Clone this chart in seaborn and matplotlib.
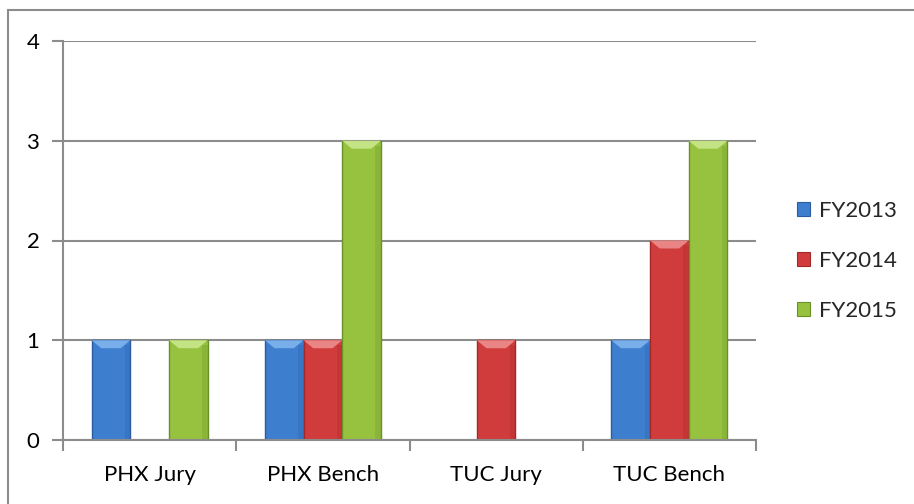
import matplotlib
matplotlib.use("Agg")
import matplotlib.pyplot as plt
from matplotlib.patches import Polygon, Rectangle
import numpy as np
import pandas as pd
import seaborn as sns

# Case counts by court location and fiscal year
categories = ["PHX Jury", "PHX Bench", "TUC Jury", "TUC Bench"]
fy2013 = [1, 1, 0, 1]
fy2014 = [0, 1, 1, 2]
fy2015 = [1, 3, 0, 3]
series_names = ["FY2013", "FY2014", "FY2015"]
y_ticks = [0, 1, 2, 3, 4]

fill_colors = ["#3d7ecf", "#d03c3c", "#96c23f"]
edge_colors = ["#2a5c9e", "#a32828", "#6a9127"]
top_colors = ["#78aee9", "#ea8585", "#c3e385"]

df = pd.DataFrame({
    "category": categories * 3,
    "series": [s for s in series_names for _ in categories],
    "value": fy2013 + fy2014 + fy2015,
})

sns.set_theme(style="white")
plt.rcParams["font.family"] = ["Lato", "DejaVu Sans"]

fig = plt.figure(figsize=(9.14, 5.04), dpi=100)
ax = fig.add_axes([63 / 914, 1 - 440 / 504, (756 - 63) / 914, (440 - 41) / 504])

sns.barplot(data=df, x="category", y="value", hue="series", order=categories,
            hue_order=series_names, palette=fill_colors, width=0.67, gap=0,
            saturation=1, ax=ax, legend=False, linewidth=0)

# Style each bar: darker outline, bevelled top, hide empty bars
n_cat = len(categories)
for i, patch in enumerate(ax.patches[: n_cat * len(series_names)]):
    s = i // n_cat
    h = patch.get_height()
    if h <= 0:
        patch.set_visible(False)
        continue
    patch.set_edgecolor(edge_colors[s])
    patch.set_linewidth(1.0)
    x0, w = patch.get_x(), patch.get_width()
    bevel_h = 0.08
    inset = w * 0.25
    z = patch.get_zorder()
    ax.add_patch(Polygon([[x0, h], [x0 + w, h], [x0 + w - inset, h - bevel_h],
                          [x0 + inset, h - bevel_h]], closed=True,
                         facecolor=top_colors[s], edgecolor="none", zorder=z + 0.1))
    ax.add_patch(Rectangle((x0 + w * 0.86, 0), w * 0.14, h - bevel_h * 0.6,
                           facecolor=edge_colors[s], alpha=0.25, edgecolor="none",
                           zorder=z + 0.05))

ax.set_ylim(0, 4)
ax.set_xlim(-0.5, n_cat - 0.5)
ax.set_yticks(y_ticks)
ax.set_xlabel("")
ax.set_ylabel("")

grid_color = "#8c8c8c"
ax.yaxis.grid(True, color=grid_color, linewidth=1.5)
ax.set_axisbelow(True)
for side in ["top", "right"]:
    ax.spines[side].set_visible(False)
for side in ["left", "bottom"]:
    ax.spines[side].set_color(grid_color)
    ax.spines[side].set_linewidth(1.5)

ax.tick_params(axis="y", direction="out", length=8, width=1.5, color=grid_color,
               labelsize=16, pad=9, labelcolor="black", left=True)
ax.tick_params(axis="x", which="major", length=0, labelsize=16, pad=18, labelcolor="black")
ax.set_xticks(np.arange(-0.5, n_cat, 1.0), minor=True)
ax.tick_params(axis="x", which="minor", direction="out", length=8, width=1.5,
               color=grid_color, bottom=True)

# Legend on the right
handles = [Rectangle((0, 0), 1, 1, facecolor=fill_colors[k], edgecolor=edge_colors[k], linewidth=0.8)
           for k in range(len(series_names))]
fig.legend(handles, series_names, loc="center left", bbox_to_anchor=(797 / 914, 1 - 261 / 504),
           frameon=False, fontsize=16, handlelength=0.6, handleheight=0.6,
           handletextpad=0.4, labelspacing=1.35, borderaxespad=0, borderpad=0)

# Chart frame
fig.add_artist(Rectangle((8 / 914, -0.1), 1.2, 1 - 10 / 504 + 0.1, transform=fig.transFigure,
                         fill=False, edgecolor="#8c8c8c", linewidth=1.5))

fig.savefig("out.png", dpi=100)
